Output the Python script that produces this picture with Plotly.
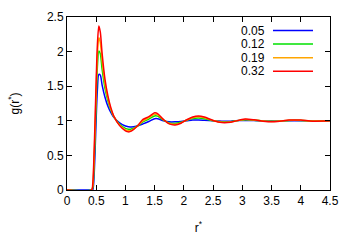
import plotly.graph_objects as go

r = [0, 0.42, 0.44, 0.46, 0.48, 0.50, 0.52, 0.545, 0.57, 0.60, 0.65, 0.70, 0.75, 0.80, 0.90,
     1.00, 1.05, 1.10, 1.20, 1.30, 1.40, 1.50, 1.55, 1.65, 1.75, 1.85, 1.95, 2.05, 2.15, 2.25,
     2.35, 2.50, 2.65, 2.80, 2.95, 3.05, 3.20, 3.40, 3.60, 3.80, 4.00, 4.20, 4.50]

g_005 = [0, 0, 0.0, 0.15, 0.55, 1.05, 1.45, 1.67, 1.66, 1.52, 1.34, 1.21, 1.12, 1.05, 0.97,
         0.925, 0.915, 0.91, 0.925, 0.955, 0.99, 1.03, 1.03, 1.0, 0.985, 0.985, 0.99, 1.0, 1.01, 1.012,
         1.008, 1.0, 0.995, 0.995, 1.003, 1.006, 1.003, 0.998, 0.998, 1.002, 1.002, 0.999, 1.0]

g_012 = [0, 0, 0.03, 0.28, 0.75, 1.3, 1.78, 2.01, 1.97, 1.75, 1.47, 1.29, 1.155, 1.06, 0.95,
         0.89, 0.878, 0.88, 0.922, 0.985, 1.025, 1.07, 1.067, 1.01, 0.97, 0.962, 0.978, 1.008, 1.032, 1.04,
         1.03, 1.002, 0.985, 0.988, 1.006, 1.015, 1.009, 0.994, 0.994, 1.006, 1.006, 0.997, 1.0]

g_019 = [0, 0, 0.05, 0.37, 0.88, 1.47, 1.95, 2.2, 2.13, 1.87, 1.53, 1.32, 1.17, 1.065, 0.94,
         0.87, 0.856, 0.862, 0.92, 1.0, 1.045, 1.095, 1.09, 1.015, 0.962, 0.95, 0.97, 1.012, 1.045, 1.057,
         1.044, 1.004, 0.98, 0.984, 1.008, 1.02, 1.012, 0.992, 0.992, 1.008, 1.008, 0.996, 1.0]

g_032 = [0, 0, 0.08, 0.45, 1.0, 1.6, 2.1, 2.37, 2.28, 1.98, 1.6, 1.36, 1.19, 1.07, 0.93,
         0.855, 0.84, 0.85, 0.92, 1.02, 1.06, 1.115, 1.105, 1.02, 0.955, 0.94, 0.965, 1.015, 1.055, 1.07,
         1.055, 1.005, 0.975, 0.98, 1.01, 1.025, 1.015, 0.99, 0.99, 1.01, 1.01, 0.995, 1.0]

names = ["0.05", "0.12", "0.19", "0.32"]
series = [g_005, g_012, g_019, g_032]
colors = ["#0000ff", "#00e000", "#ffa500", "#ff0000"]

x_ticks = [0, 0.5, 1, 1.5, 2, 2.5, 3, 3.5, 4, 4.5]
y_ticks = [0, 0.5, 1, 1.5, 2, 2.5]

FONT = "Liberation Sans, Arial, sans-serif"

fig = go.Figure()
for name, g, c in zip(names, series, colors):
    fig.add_trace(go.Scatter(x=r, y=g, mode="lines", name=name,
                             line=dict(color=c, width=1.5, shape="spline", smoothing=0.8),
                             showlegend=False))

# gnuplot-style key: right-aligned label followed by line sample
for i, (name, c) in enumerate(zip(names, colors)):
    yk = 1 - (13.5 + 13.6 * i) / 173.0
    fig.add_annotation(xref="paper", yref="paper", x=(266 - 67) / 263.0, y=yk,
                       text=name, showarrow=False, xanchor="right", yanchor="middle",
                       borderpad=0,
                       font=dict(family=FONT, size=12, color="black"))
    fig.add_shape(type="line", xref="paper", yref="paper",
                  x0=(273 - 67) / 263.0, x1=(313 - 67) / 263.0, y0=yk, y1=yk,
                  line=dict(color=c, width=1.5))

axis_common = dict(showline=True, linecolor="black", linewidth=1, mirror="ticks",
                   ticks="inside", ticklen=5, tickcolor="black", showgrid=False,
                   zeroline=False, automargin=False,
                   tickfont=dict(family=FONT, size=12, color="black"))

fig.update_layout(
    width=354, height=248,
    margin=dict(l=67, r=24, t=17, b=58),
    paper_bgcolor="white", plot_bgcolor="white",
    font=dict(family=FONT, size=12, color="black"),
    xaxis=dict(range=[0, 4.5], tickvals=x_ticks, ticktext=[f"{v:g}" for v in x_ticks],
               title=dict(text="r<sup>*</sup>", standoff=16, font=dict(family=FONT, size=12)),
               **axis_common),
    yaxis=dict(range=[0, 2.5], tickvals=y_ticks, ticktext=[f"{v:g}" for v in y_ticks],
               title=dict(text="g(r<sup>*</sup>)", standoff=24, font=dict(family=FONT, size=12)),
               **axis_common),
)

fig.write_html("out.html", config={"displayModeBar": False},
               post_script="document.body.style.margin='0';document.body.style.overflow='hidden';")
